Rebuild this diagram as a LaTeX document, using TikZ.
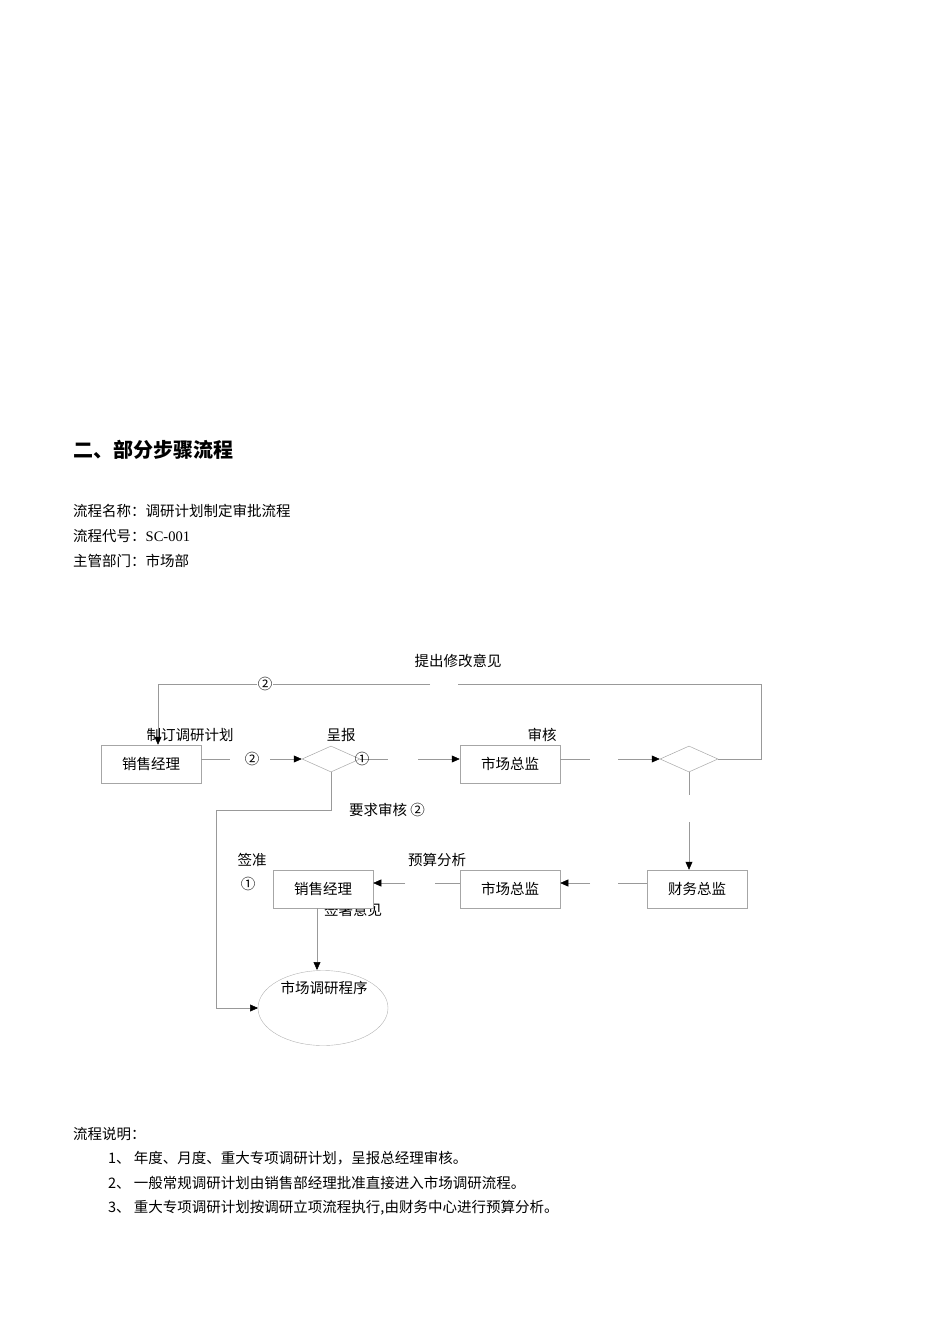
\documentclass[tikz,border=0pt]{standalone}
\usepackage{fontspec}
\setmainfont{Liberation Serif}
\newfontfamily\cjk{Noto Sans CJK SC}
\usetikzlibrary{shapes.geometric,arrows.meta}
\begin{document}
\begin{tikzpicture}[x=1pt,y=-1pt,
  txt/.style={font=\cjk\fontsize{14.5}{17}\selectfont,inner sep=0pt},
  lbl/.style={font=\cjk\fontsize{14.5}{17}\selectfont,inner sep=0pt,anchor=west},
  box/.style={draw=gray!70,line width=0.5pt,fill=white,minimum width=100pt,minimum height=38pt,font=\cjk\fontsize{14.5}{17}\selectfont},
  dia/.style={draw=gray!70,line width=0.5pt,diamond,aspect=2.2,minimum width=58pt,minimum height=26pt,inner sep=0pt},
  ln/.style={draw=gray!80,line width=0.5pt},
  ar/.style={ln,-{Triangle[black,length=8pt,width=7pt]}}]
\useasboundingbox (0,0) rectangle (950,1344);
\node[anchor=west,font=\cjk\bfseries\fontsize{20}{24}\selectfont,inner sep=0pt] (title) at (73,450) {二、部分步骤流程};
\node[lbl] (l1) at (73,511) {流程名称：调研计划制定审批流程};
\node[lbl] (l2) at (73,536) {流程代号：\rmfamily SC-001};
\node[lbl] (l3) at (73,561) {主管部门：市场部};
% labels behind
\node[txt] (qs) at (353,910) {签署意见};
% nodes
\node[box] (b1) at (151,764) {销售经理};
\node[dia] (d1) at (331,759) {};
\node[box] (b2) at (510,764) {市场总监};
\node[dia] (d2) at (689,759) {};
\node[box] (b3) at (697,889) {财务总监};
\node[box] (b4) at (510,889) {市场总监};
\node[box] (b5) at (323,889) {销售经理};
\node[draw=gray!60,ellipse,minimum width=130pt,minimum height=75pt] (e) at (323,1008) {};
\node[txt] (et) at (324,988) {市场调研程序};
% coordinates
\coordinate (g1) at (230,759); \coordinate (g1b) at (270,759);
\coordinate (g2) at (388,759); \coordinate (g2b) at (418,759);
\coordinate (g3) at (590,759); \coordinate (g3b) at (618,759);
\coordinate (g4) at (689,795); \coordinate (g4b) at (689,822);
\coordinate (g5) at (618,883); \coordinate (g5b) at (590,883);
\coordinate (g6) at (435,883); \coordinate (g6b) at (405,883);
\coordinate (t1) at (761,759); \coordinate (t2) at (761,684); \coordinate (t3) at (458,684);
\coordinate (t4) at (430,684); \coordinate (t5) at (158,684);
\coordinate (s1) at (331,810); \coordinate (s2) at (216,810); \coordinate (s3) at (216,1008);
% connectors
\draw[ln] (b1.east|-g1) -- (g1);
\draw[ar] (g1b) -- (d1.west);
\draw[ln] (d1.east) -- (g2);
\draw[ar] (g2b) -- (b2.west|-g2b);
\draw[ln] (b2.east|-g3) -- (g3);
\draw[ar] (g3b) -- (d2.west);
\draw[ln] (d2.east) -- (t1) -- (t2) -- (t3);
\draw[ar] (t4) -- (t5) -- (b1.north-|t5);
\draw[ln] (d2.south) -- (g4);
\draw[ar] (g4b) -- (b3.north-|g4b);
\draw[ln] (b3.west|-g5) -- (g5);
\draw[ar] (g5b) -- (b4.east|-g5b);
\draw[ln] (b4.west|-g6) -- (g6);
\draw[ar] (g6b) -- (b5.east|-g6b);
\draw[ar] (b5.south-|317,0) -- (317,970);
\draw[ar] (d1.south) -- (s1) -- (s2) -- (s3) -- (258,1008);
% labels
\node[txt,fill=white,inner sep=1pt] (c1) at (252,759) {②};
\node[txt] (c2) at (362,759) {①};
\node[txt,fill=white,inner sep=1pt] (c3) at (265,684) {②};
\node[txt] (tx1) at (458,661) {提出修改意见};
\node[txt] (tx2) at (190,735) {制订调研计划};
\node[txt] (tx3) at (341,735) {呈报};
\node[txt] (tx4) at (542,735) {审核};
\node[txt] (tx5) at (387,810) {要求审核 ②};
\node[txt] (tx6) at (252,860) {签准};
\node[txt] (tx7) at (248,884) {①};
\node[txt] (tx8) at (437,860) {预算分析};
% bottom
\node[lbl] (n0) at (73,1134) {流程说明：};
\node[lbl] (n1) at (108,1158) {1、 年度、月度、重大专项调研计划，呈报总经理审核。};
\node[lbl] (n2) at (108,1183) {2、 一般常规调研计划由销售部经理批准直接进入市场调研流程。};
\node[lbl] (n3) at (108,1208) {3、 重大专项调研计划按调研立项流程执行,由财务中心进行预算分析。};
\end{tikzpicture}
\end{document}
